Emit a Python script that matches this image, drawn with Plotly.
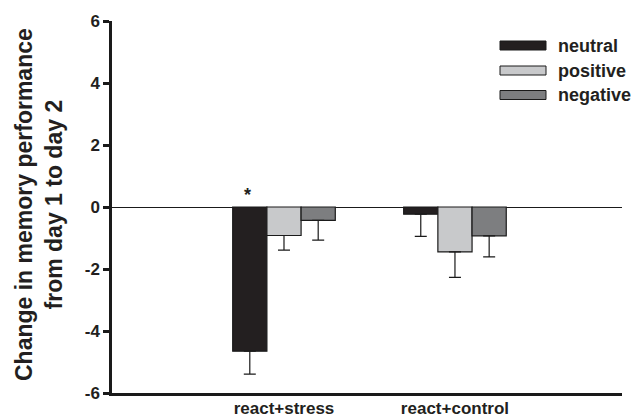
import plotly.graph_objects as go

categories = ["react+stress", "react+control"]
series_names = ["neutral", "positive", "negative"]
neutral = [-4.65, -0.23]
positive = [-0.92, -1.45]
negative = [-0.43, -0.93]
neutral_err = [0.74, 0.72]
positive_err = [0.47, 0.82]
negative_err = [0.64, 0.68]
y_ticks = [-6, -4, -2, 0, 2, 4, 6]

colors = ["#231f20", "#c8c9cb", "#7d7e80"]
values = [neutral, positive, negative]
errs = [neutral_err, positive_err, negative_err]

OFF = 8  # page body margin
W, H = 641 - OFF, 418 - OFF
ML, MR, MT, MB = 112 - OFF, 19, 21 - OFF, 25
PW, PH = W - ML - MR, H - MT - MB

fig = go.Figure()
xs = list(range(len(categories)))
for name, vals, err, col in zip(series_names, values, errs, colors):
    fig.add_trace(go.Bar(
        x=xs, y=vals, name=name,
        marker=dict(color=col, line=dict(color="#1a1a1a", width=1.2)),
        error_y=dict(type="data", symmetric=False, array=[0] * len(err), arrayminus=err,
                     color="#1a1a1a", thickness=1.2, width=6),
        showlegend=False,
    ))

font = "Liberation Sans, Arial, sans-serif"
ink = "#231f20"

def px_x(px):
    return (px - OFF - ML) / PW

def px_y(py):
    return (H - MB - (py - OFF)) / PH

shapes = []
annotations = []
legend_rows = [45.5, 70.5, 95]
for name, col, ry in zip(series_names, colors, legend_rows):
    shapes.append(dict(type="rect", xref="paper", yref="paper",
                       x0=px_x(500), x1=px_x(546), y0=px_y(ry + 4.5), y1=px_y(ry - 4.5),
                       fillcolor=col, line=dict(color="#1a1a1a", width=1)))
    annotations.append(dict(xref="paper", yref="paper", x=px_x(556), y=px_y(ry),
                            text="<b>%s</b>" % name, showarrow=False, xanchor="left",
                            yanchor="middle", font=dict(family=font, size=18, color=ink)))

# significance marker above react+stress neutral bar
annotations.append(dict(x=-0.2, y=0, xref="x", yref="y", text="<b>*</b>", showarrow=False,
                        yanchor="bottom", yshift=0, xshift=-2,
                        font=dict(family=font, size=18, color=ink)))

# y-axis title
annotations.append(dict(xref="paper", yref="paper", x=px_x(39), y=px_y(205),
                        text="<b>Change in memory performance<br>from day 1 to day 2</b>",
                        textangle=-90, showarrow=False, xanchor="center", yanchor="middle",
                        font=dict(family=font, size=23, color=ink)))

fig.update_layout(
    width=W, height=H,
    margin=dict(l=ML, r=MR, t=MT, b=MB, autoexpand=False),
    paper_bgcolor="white", plot_bgcolor="white",
    barmode="group", bargap=0.4, bargroupgap=0,
    shapes=shapes, annotations=annotations,
    font=dict(family=font, color=ink),
)
fig.update_xaxes(
    range=[-1.006, 1.977], tickvals=xs, ticktext=["<b>%s</b>" % c for c in categories],
    ticks="", showline=True, linecolor="#1a1a1a", linewidth=3, showgrid=False,
    zeroline=False, automargin=False, ticklabelstandoff=-2,
    tickfont=dict(family=font, size=17, color=ink),
)
fig.update_yaxes(
    range=[-6, 6], tickvals=y_ticks, ticktext=["<b>%d</b>" % v for v in y_ticks],
    ticks="outside", ticklen=6, tickwidth=2.5, tickcolor="#1a1a1a",
    showline=True, linecolor="#1a1a1a", linewidth=2.5, showgrid=False,
    zeroline=True, zerolinecolor="#1a1a1a", zerolinewidth=1, automargin=False,
    tickfont=dict(family=font, size=17, color=ink),
)

fig.write_html("out.html")
